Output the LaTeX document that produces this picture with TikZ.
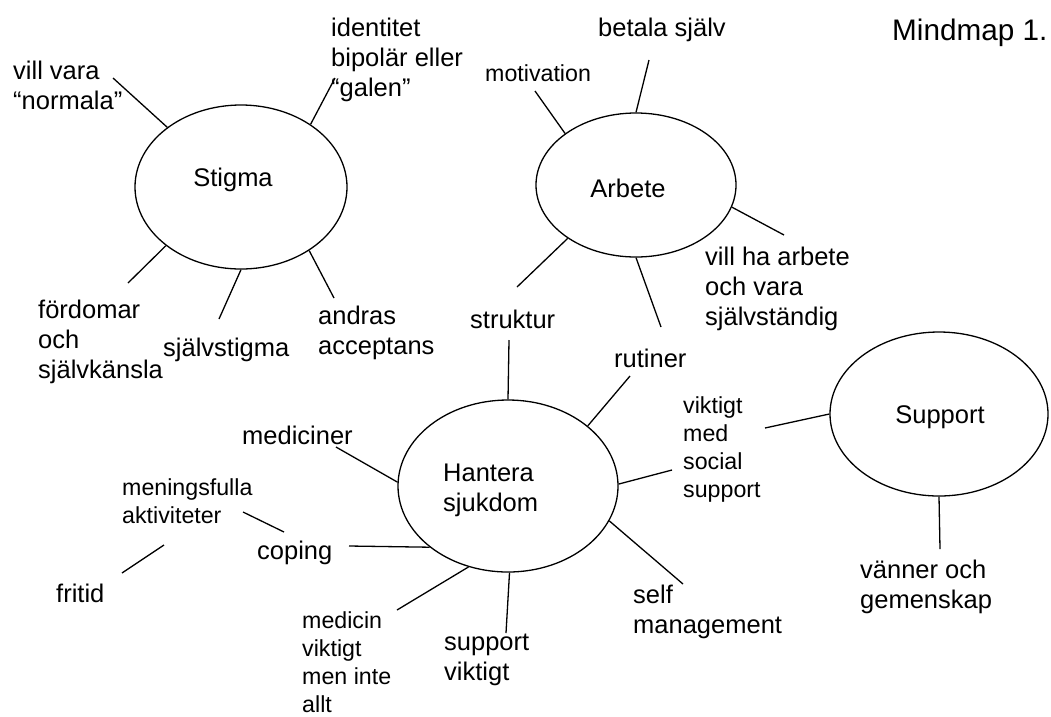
\documentclass[tikz,border=0pt]{standalone}
\usepackage{fontspec}
\setmainfont{Liberation Sans}
\usetikzlibrary{shapes.geometric}

\newcommand{\txtnormal}{\fontsize{25.5}{30}\selectfont}
\newcommand{\txtsmall}{\fontsize{23.2}{28}\selectfont}
\newcommand{\txttitle}{\fontsize{29.7}{34}\selectfont}

\begin{document}
\begin{tikzpicture}[x=1pt, y=-1pt,
	bubble/.style={draw, ellipse, line width=1.3pt, inner sep=0pt},
	lbl/.style={anchor=west, align=left, inner sep=0pt, font=\txtnormal},
	sublbl/.style={lbl, font=\txtsmall},
	spoke/.style={line width=1.3pt}]
	\useasboundingbox (0,0) rectangle (1051,716);
	\node[lbl, font=\txttitle] (title) at (892,33) {Mindmap 1.};
	% the four bubbles
	\node[bubble, minimum width=212pt, minimum height=164pt] (stigma) at (241,187) {};
	\node[bubble, minimum width=200pt, minimum height=144pt] (arbete) at (636,185) {};
	\node[bubble, minimum width=220pt, minimum height=172pt] (hantera) at (508,486) {};
	\node[bubble, minimum width=218pt, minimum height=164pt] (support) at (939,414) {};
	\node[font=\txtnormal, inner sep=0pt] (stigmatxt) at (233,180) {Stigma};
	\node[font=\txtnormal, inner sep=0pt] (arbetetxt) at (628,188) {Arbete};
	\node[lbl] (hanteratxt) at (443,490) {Hantera\\sjukdom};
	\node[font=\txtnormal, inner sep=0pt] (supporttxt) at (940,417) {Support};
	% Stigma
	\node[lbl] (normala) at (13,85) {vill vara\\“normala”};
	\node[lbl] (identitet) at (331,60) {identitet\\bipolär eller\\“galen”};
	\node[lbl] (fordomar) at (38,342) {fördomar\\och\\självkänsla};
	\node[lbl] (sjalvstigma) at (163,350) {självstigma};
	\node[lbl] (andras) at (318,333) {andras\\acceptans};
	\draw[spoke] (stigma.141) -- (113,78) coordinate (normalaend);
	\draw[spoke] (stigma.42) -- (335,78) coordinate (identitetend);
	\draw[spoke] (stigma.-142) -- (128,283) coordinate (fordomarend);
	\draw[spoke] (stigma.270) -- (219,319) coordinate (sjalvstigmaend);
	\draw[spoke] (stigma.-43) -- (334,298) coordinate (andrasend);
	% Arbete
	\node[sublbl] (motivation) at (485,73) {motivation};
	\node[lbl] (betala) at (598,30) {betala själv};
	\node[lbl] (villha) at (705,289) {vill ha arbete\\och vara\\självständig};
	\node[lbl] (struktur) at (470,319) {struktur};
	\node[lbl] (rutiner) at (614,358) {rutiner};
	\draw[spoke] (arbete.144) -- (535,91) coordinate (motivationend);
	\draw[spoke] (arbete.90) -- (649,60) coordinate (betalaend);
	\draw[spoke] (arbete.-13) -- (784,235) coordinate (villhaend);
	\draw[spoke] (arbete.218) -- (517,287) coordinate (strukturend);
	\draw[spoke] (arbete.270) -- (661,327) coordinate (rutinerend);
	% Hantera sjukdom
	\node[lbl] (mediciner) at (242,435) {mediciner};
	\node[sublbl] (meningsfulla) at (122,501) {meningsfulla\\aktiviteter};
	\node[lbl] (coping) at (257,553) {coping};
	\node[lbl] (fritid) at (56,593) {fritid};
	\node[sublbl] (medicin) at (302,662) {medicin\\viktigt\\men inte\\allt};
	\node[lbl] (supportviktigt) at (444,660) {support\\viktigt};
	\node[lbl] (selfman) at (633,612) {self\\management};
	\node[sublbl] (social) at (683,449) {viktigt\\med\\social\\support};
	\draw[spoke] (hantera.90) -- (509,340) coordinate (hstruktur);
	\draw[spoke] (hantera.37) -- (630,376) coordinate (hrutiner);
	\draw[spoke] (hantera.1) -- (672,470) coordinate (hsocial);
	\draw[spoke] (hantera.-19) -- (683,584) coordinate (hself);
	\draw[spoke] (hantera.-89) -- (506,633) coordinate (hsupport);
	\draw[spoke] (hantera.244) -- (397,610) coordinate (hmedicin);
	\draw[spoke] (hantera.218) -- (349,546) coordinate (hcoping);
	\draw[spoke] (hantera.178) -- (336,447) coordinate (hmediciner);
	\draw[spoke] (243,512) coordinate (meningsend) -- (284,532) coordinate (copingend);
	\draw[spoke] (164,545) coordinate (fritidtop) -- (122,573) coordinate (fritidend);
	% Support
	\node[lbl] (vanner) at (860,587) {vänner och\\gemenskap};
	\draw[spoke] (support.180) -- (765,428) coordinate (ssocial);
	\draw[spoke] (support.270) -- (940,549) coordinate (svanner);
\end{tikzpicture}
\end{document}
